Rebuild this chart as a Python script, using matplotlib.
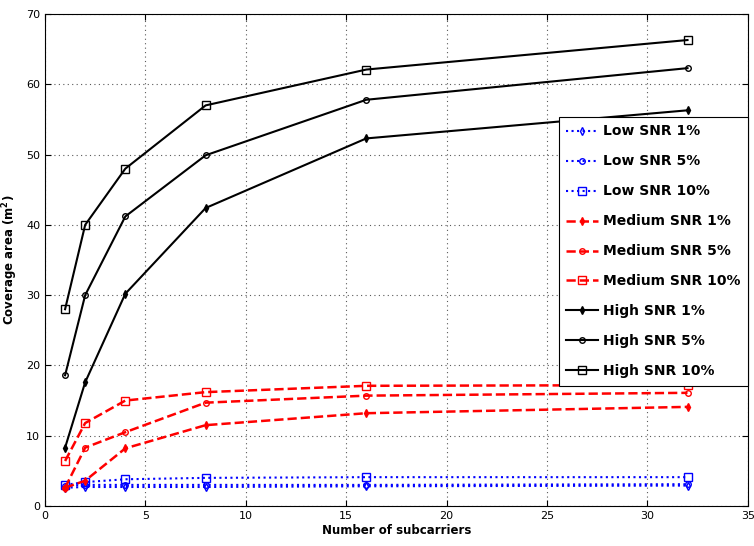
import matplotlib.pyplot as plt

# Number of subcarriers
subcarriers = [1, 2, 4, 8, 16, 32]

# Coverage area (m^2) for each SNR level and outage threshold
low_1 = [2.6, 2.7, 2.7, 2.7, 2.8, 2.9]
low_5 = [2.9, 3.0, 3.0, 3.0, 3.0, 3.1]
low_10 = [3.0, 3.4, 3.8, 4.0, 4.1, 4.1]
med_1 = [2.6, 3.6, 8.2, 11.5, 13.2, 14.1]
med_5 = [2.6, 8.3, 10.5, 14.7, 15.7, 16.1]
med_10 = [6.4, 11.8, 15.0, 16.2, 17.1, 17.2]
high_1 = [8.3, 17.6, 30.2, 42.4, 52.3, 56.3]
high_5 = [18.6, 30.0, 41.2, 49.9, 57.8, 62.3]
high_10 = [28.0, 40.0, 48.0, 57.0, 62.1, 66.3]

fig = plt.figure(figsize=(7.54, 5.46), dpi=100)
ax = fig.add_axes([0.0597, 0.0733, 0.932, 0.901])

ax.plot(subcarriers, low_1, ':', color='b', marker='d', ms=4, mfc='none', lw=1.5, label='Low SNR 1%')
ax.plot(subcarriers, low_5, ':', color='b', marker='o', ms=4, mfc='none', lw=1.5, label='Low SNR 5%')
ax.plot(subcarriers, low_10, ':', color='b', marker='s', ms=6, mfc='none', lw=1.5, label='Low SNR 10%')
ax.plot(subcarriers, med_1, '--', color='r', marker='d', ms=4, lw=1.8, label='Medium SNR 1%')
ax.plot(subcarriers, med_5, '--', color='r', marker='o', ms=4, mfc='none', lw=1.8, label='Medium SNR 5%')
ax.plot(subcarriers, med_10, '--', color='r', marker='s', ms=6, mfc='none', lw=1.8, label='Medium SNR 10%')
ax.plot(subcarriers, high_1, '-', color='k', marker='d', ms=4, lw=1.5, label='High SNR 1%')
ax.plot(subcarriers, high_5, '-', color='k', marker='o', ms=4, mfc='none', lw=1.5, label='High SNR 5%')
ax.plot(subcarriers, high_10, '-', color='k', marker='s', ms=6, mfc='none', lw=1.5, label='High SNR 10%')

ax.set_xlim(0, 35)
ax.set_ylim(0, 70)
ax.set_xticks(range(0, 36, 5))
ax.set_yticks(range(0, 71, 10))
ax.tick_params(direction='in', top=True, right=True, labelsize=8, length=4)
ax.grid(True, linestyle=(0, (1, 3)), color='0.35', lw=0.8)
ax.set_xlabel('Number of subcarriers', fontsize=8.5, fontweight='bold', labelpad=2)
ax.set_ylabel('Coverage area (m$^\\mathbf{2}$)', fontsize=8.5, fontweight='bold', labelpad=4)

leg = ax.legend(loc='upper right', bbox_to_anchor=(1.0, 0.791), fancybox=False,
                edgecolor='k', framealpha=1, borderaxespad=0,
                prop={'weight': 'bold', 'size': 10}, labelspacing=1.15,
                handlelength=2.3, handletextpad=0.3, borderpad=0.55)
leg.get_frame().set_linewidth(0.8)

plt.savefig('out.png', dpi=100)
